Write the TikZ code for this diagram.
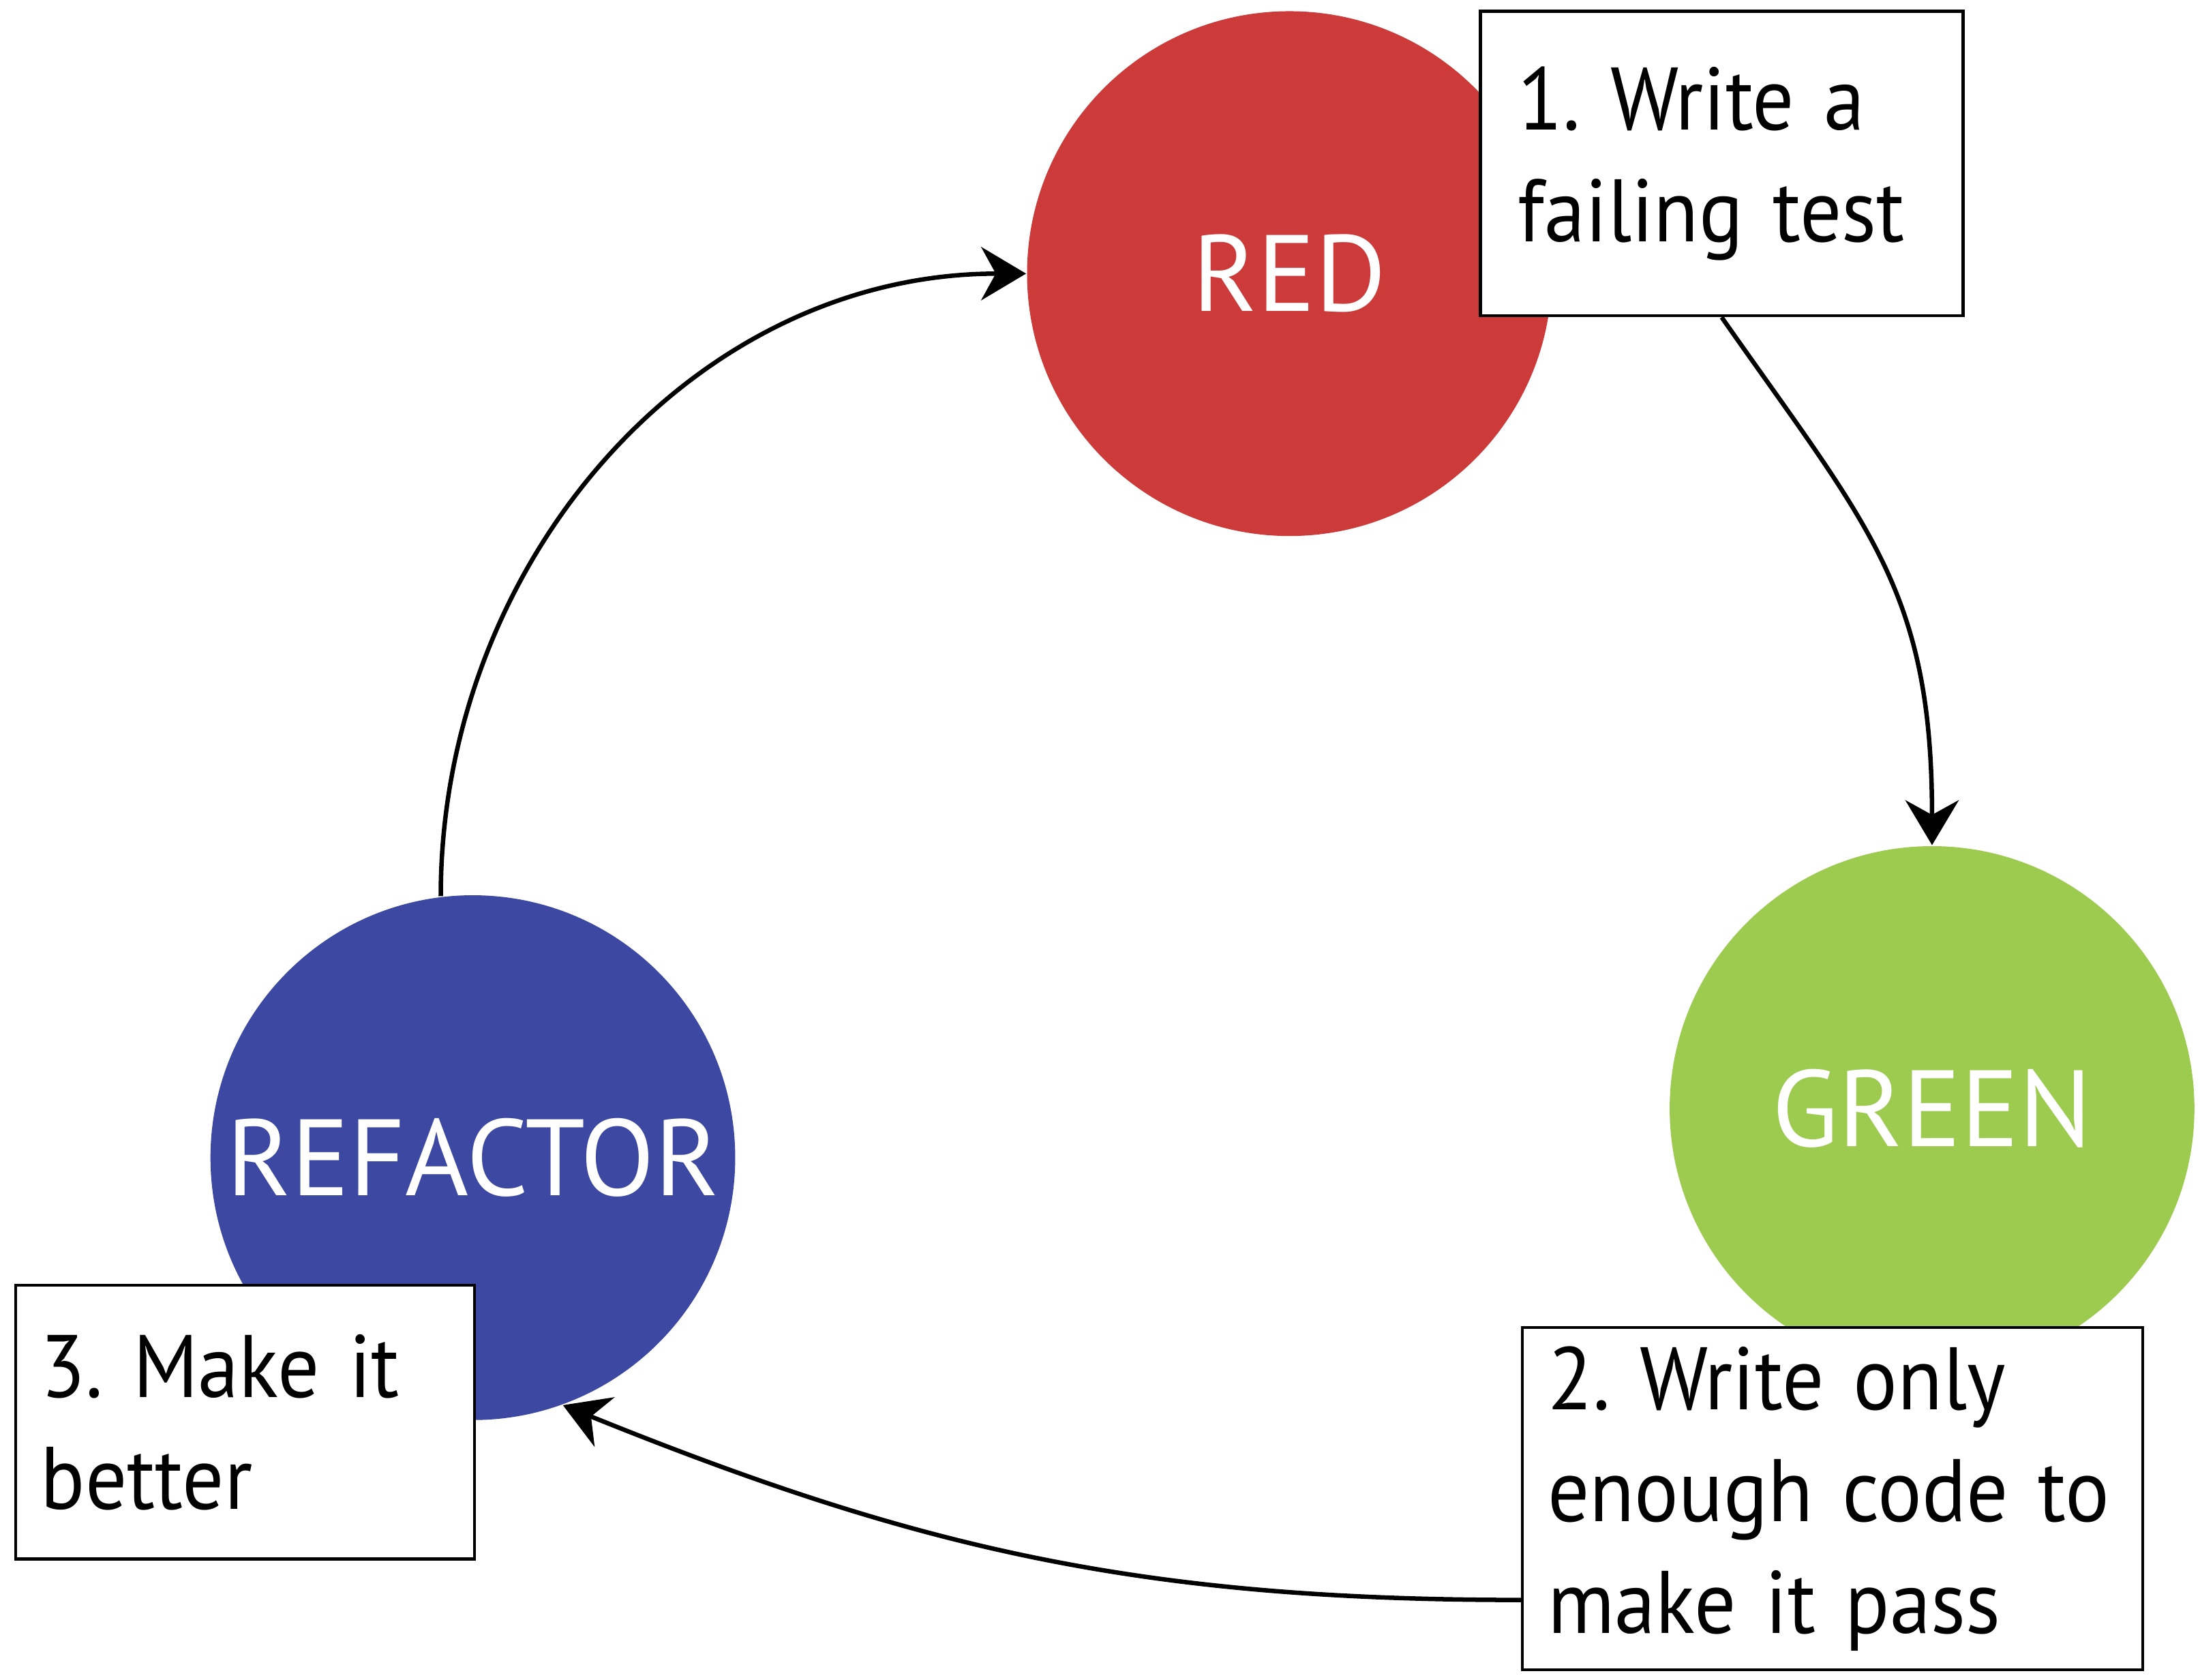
\documentclass[tikz,border=0pt]{standalone}
\usepackage{fontspec}
\setmainfont{PT Sans}
\newfontfamily\notefont[FakeStretch=0.93]{PT Sans}
\usetikzlibrary{arrows.meta}
\definecolor{cRed}{HTML}{CC3B3A}
\definecolor{cGreen}{HTML}{9DCB50}
\definecolor{cBlue}{HTML}{3D48A2}
\definecolor{cInk}{HTML}{000000}

\begin{document}
\begin{tikzpicture}[
  phase/.style={circle, minimum size=3.74cm, inner sep=0pt, text=white,
    font=\fontsize{22}{26}\selectfont},
  stepbox/.style={rectangle, draw=cInk, line width=0.6pt, fill=white,
    anchor=north west, align=left,
    font=\notefont\fontsize{18}{22.7}\selectfont\frenchspacing},
  flow/.style={-{Stealth[length=0.32cm,width=0.38cm]}, line width=0.9pt, cInk},
]
\useasboundingbox (0,0) rectangle (15.68,11.97);
% the three phases
\node[phase, fill=cRed] (red) at (9.19,10.02) {RED};
\node[phase, fill=cGreen] (green) at (13.77,4.07) {GREEN};
\node[phase, fill=cBlue] (refactor) at (3.37,3.72) {REFACTOR};
% step notes
\node[stepbox, text width=2.9cm, inner xsep=0.27cm, minimum height=2.17cm]
  (write) at (10.54,11.90) {1. Write a\\failing test};
\node[stepbox, text width=4.06cm, inner xsep=0.18cm, minimum height=2.44cm]
  (pass) at (10.84,2.52) {2. Write only\\enough code to\\make it pass};
\node[stepbox, text width=2.91cm, inner xsep=0.18cm, minimum height=1.95cm]
  (better) at (0.10,2.82) {3. Make it\\better};
% arrows
\draw[flow] (write.south) to[out=-55, in=90, looseness=1.15] (green.north);
\draw[flow] (pass.198) to[out=180, in=-22] (refactor.-70);
\draw[flow] (refactor.97) to[out=90, in=180] (red.west);
\end{tikzpicture}
\end{document}
